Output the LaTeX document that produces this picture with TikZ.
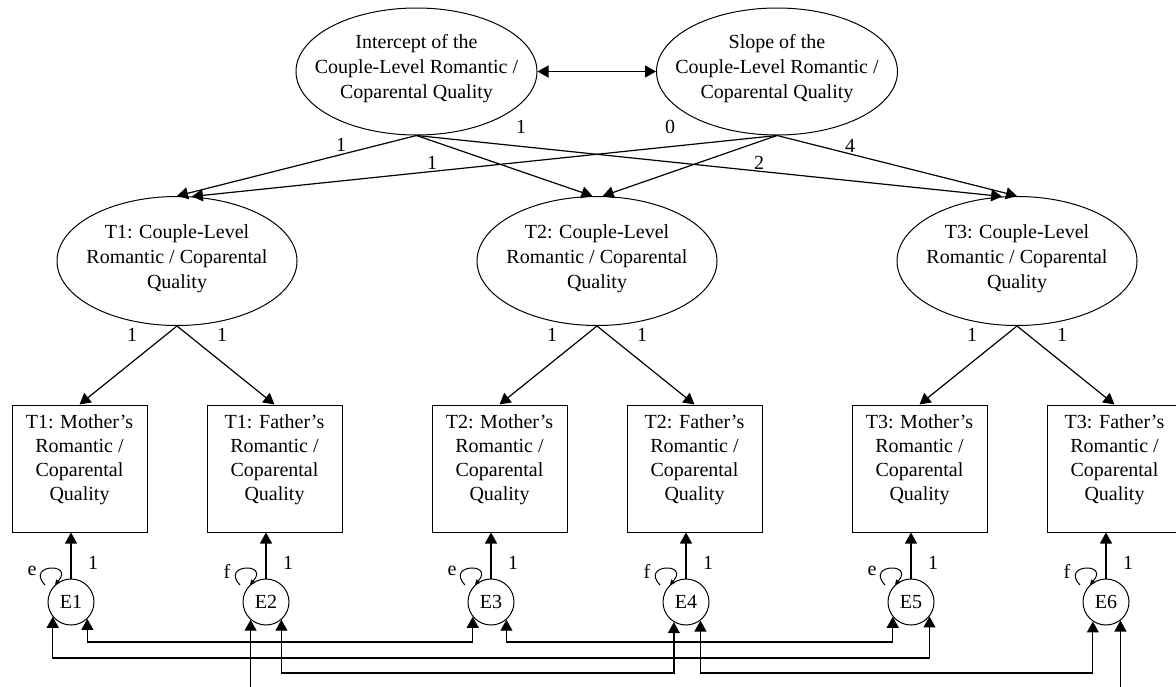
\documentclass[tikz,border=0pt]{standalone}
\usepackage{fontspec}
\setmainfont{Liberation Serif}
\usetikzlibrary{shapes.geometric,arrows.meta,calc}
\begin{document}
\begin{tikzpicture}[x=1pt,y=-1pt,
  every node/.style={font=\fontsize{20}{25}\selectfont},
  latent/.style={ellipse,draw,line width=1pt,fill=white,minimum width=240pt,minimum height=129pt,inner sep=0pt},
  obs/.style={rectangle,draw,line width=1pt,fill=white,minimum width=135pt,minimum height=127pt,inner sep=0pt},
  err/.style={circle,draw,line width=1pt,fill=white,minimum size=46pt,inner sep=0pt},
  lbl/.style={align=center,inner sep=0pt},
  boxlbl/.style={align=center,inner sep=0pt,font=\fontsize{20}{24}\selectfont},
  conn/.style={line width=1.2pt,-{Triangle[length=11pt,width=12pt]}},
  dconn/.style={line width=1.2pt,{Triangle[length=11pt,width=12pt]}-{Triangle[length=11pt,width=12pt]}},
  selfloop/.style={line width=1pt,-{Triangle[length=5pt,width=5pt]}},
  num/.style={inner sep=0pt}
]
\useasboundingbox (0,0) rectangle (1176,686);
\fill[white] (0,0) rectangle (1176,686);
\clip (0,0) rectangle (1176,686);

% growth factors
\node[latent,minimum width=241pt,minimum height=127pt,
  label={[lbl,yshift=3pt]center:{Intercept of the\\Couple-Level Romantic /\\Coparental Quality}}] (I) at (416.5,71.5) {};
\node[latent,minimum width=241pt,minimum height=127pt,
  label={[lbl,yshift=3pt]center:{Slope of the\\Couple-Level Romantic /\\Coparental Quality}}] (S) at (777,71.5) {};

% time-specific latent factors
\node[latent,label={[lbl,yshift=2pt]center:{T1: Couple-Level\\Romantic / Coparental\\Quality}}] (T1) at (177,261) {};
\node[latent,label={[lbl,yshift=2pt]center:{T2: Couple-Level\\Romantic / Coparental\\Quality}}] (T2) at (597,261) {};
\node[latent,label={[lbl,yshift=2pt]center:{T3: Couple-Level\\Romantic / Coparental\\Quality}}] (T3) at (1017,261) {};

% observed indicators
\node[obs,label={[boxlbl,yshift=9pt]center:{T1: Mother’s\\Romantic /\\Coparental\\Quality}}] (M1) at (79.5,468.5) {};
\node[obs,label={[boxlbl,yshift=9pt]center:{T1: Father’s\\Romantic /\\Coparental\\Quality}}] (F1) at (274.5,468.5) {};
\node[obs,label={[boxlbl,yshift=9pt]center:{T2: Mother’s\\Romantic /\\Coparental\\Quality}}] (M2) at (499.5,468.5) {};
\node[obs,label={[boxlbl,yshift=9pt]center:{T2: Father’s\\Romantic /\\Coparental\\Quality}}] (F2) at (694.5,468.5) {};
\node[obs,label={[boxlbl,yshift=9pt]center:{T3: Mother’s\\Romantic /\\Coparental\\Quality}}] (M3) at (919.5,468.5) {};
\node[obs,label={[boxlbl,yshift=9pt]center:{T3: Father’s\\Romantic /\\Coparental\\Quality}}] (F3) at (1114.5,468.5) {};

% residuals
\node[err] (E1) at (71,602) {E1};
\node[err] (E2) at (266,602) {E2};
\node[err] (E3) at (491,602) {E3};
\node[err] (E4) at (686,602) {E4};
\node[err] (E5) at (911,602) {E5};
\node[err] (E6) at (1106,602) {E6};

% intercept / slope covariance
\draw[dconn] (I.east) -- (S.west);

% growth loadings
\draw[conn] (I.south) -- (T1.north);
\draw[conn] (I.south) -- (T2.94);
\draw[conn] (I.south) -- (T3.103);
\draw[conn] (S.south) -- (T1.77);
\draw[conn] (S.south) -- (T2.85);
\draw[conn] (S.south) -- (T3.north);

\node[num] (li1) at (341,145) {1};
\node[num] (li2) at (432,163) {1};
\node[num] (li3) at (521,127) {1};
\node[num] (ls1) at (670,127) {0};
\node[num] (ls2) at (759,163) {2};
\node[num] (ls3) at (850,146) {4};

% measurement loadings
\foreach \i in {1,2,3}{
  \draw[conn] (T\i.south) -- (M\i.north);
  \draw[conn] (T\i.south) -- (F\i.north);
  \node[num] (lm\i) at ($(T\i)+(-45,74)$) {1};
  \node[num] (lf\i) at ($(T\i)+(45,74)$) {1};
}

% residual paths, self loops and variance labels
\foreach \e/\b/\v in {E1/M1/e,E2/F1/f,E3/M2/e,E4/F2/f,E5/M3/e,E6/F3/f}{
  \draw[conn] (\e.north) -- (\e.north |- \b.south);
  \node[num] (one\e) at ($(\e)+(22,-39)$) {1};
  \draw[selfloop] ($(\e)+(-26,-17)$) .. controls ($(\e)+(-46,-38)$) and ($(\e)+(4,-40)$) .. (\e.133);
  \node[num] (var\e) at ($(\e)+(-39,-31)$) {\v};
}

% residual covariances
\coordinate (ya) at (0,642);
\coordinate (yb) at (0,658);
\coordinate (yc) at (0,673);
\coordinate (yd) at (0,720);
\draw[dconn] (E1.314) -- (E1.314 |- ya) -| (E3.219);
\draw[dconn] (E3.311) -- (E3.311 |- ya) -| (E5.219);
\draw[dconn] (E1.219) -- (E1.219 |- yb) -| (E5.322);
\draw[dconn] (E2.311) -- (E2.311 |- yc) -| (E4.239);
\draw[dconn] (E4.308) -- (E4.308 |- yc) -| (E6.236);
\draw[dconn] (E2.229) -- (E2.229 |- yd) -| (E6.308);
\end{tikzpicture}
\end{document}
